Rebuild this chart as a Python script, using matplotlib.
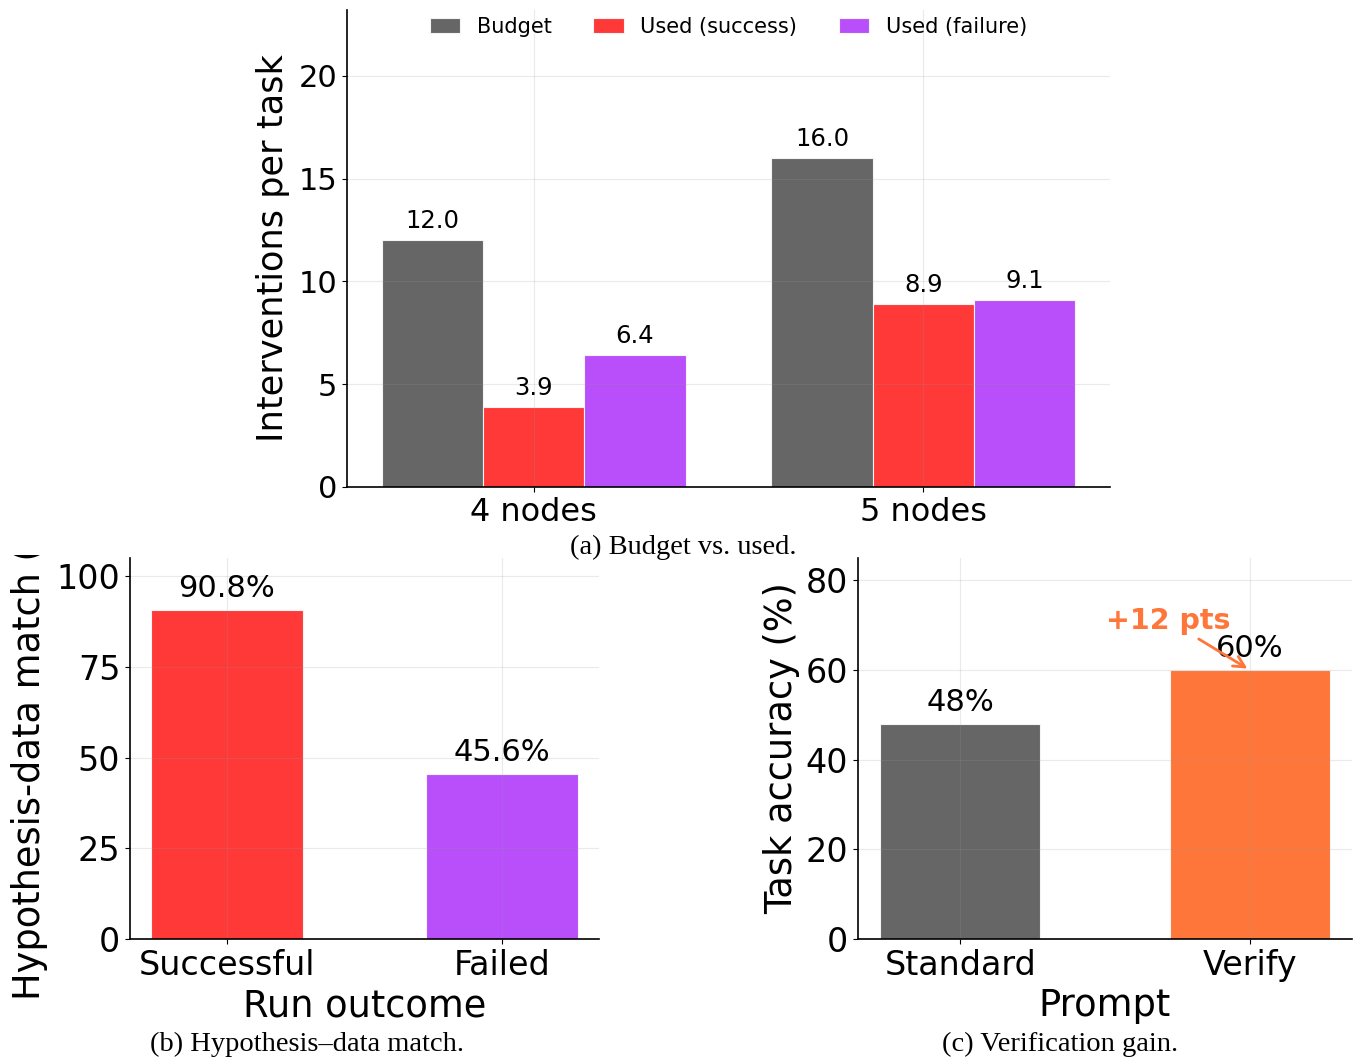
import numpy as np
import matplotlib
matplotlib.use('Agg')
import matplotlib.pyplot as plt
from matplotlib.transforms import Bbox, TransformedBbox

# data
groups = ['4 nodes', '5 nodes']
budget = [12.0, 16.0]
used_success = [3.9, 8.9]
used_failure = [6.4, 9.1]

outcomes = ['Successful', 'Failed']
match_pct = [90.8, 45.6]

prompts = ['Standard', 'Verify']
accuracy = [48, 60]
gain_label = '+12 pts'

GRAY = '#666666'
RED = '#ff3838'
PURPLE = '#b94ffa'
ORANGE = '#ff763a'

plt.rcParams['font.family'] = 'DejaVu Sans'
W, H = 1355, 1061
fig = plt.figure(figsize=(W / 100, H / 100), dpi=100)


def box(l, r, t, b):
    return [l / W, 1 - b / H, (r - l) / W, (b - t) / H]


def style(ax):
    ax.spines['top'].set_visible(False)
    ax.spines['right'].set_visible(False)
    for s in ['left', 'bottom']:
        ax.spines[s].set_linewidth(1.2)
    ax.grid(True, color='#999999', lw=0.8, alpha=0.2)


# (a) budget vs used
ax1 = fig.add_axes(box(347, 1110, 10, 487))
x = np.arange(len(groups))
w = 0.26
b1 = ax1.bar(x - w, budget, w, color=GRAY, edgecolor='#f4f4f4', lw=0.8, label='Budget')
b2 = ax1.bar(x, used_success, w, color=RED, edgecolor='#f4f4f4', lw=0.8, label='Used (success)')
b3 = ax1.bar(x + w, used_failure, w, color=PURPLE, edgecolor='#f4f4f4', lw=0.8, label='Used (failure)')
for bb in (b1, b2, b3):
    ax1.bar_label(bb, fmt='%.1f', padding=5, fontsize=17.5)
ax1.set_ylim(0, 23.2)
ax1.set_yticks([0, 5, 10, 15, 20])
ax1.set_xticks(x)
ax1.set_xticklabels(groups, fontsize=23)
ax1.tick_params(axis='y', labelsize=22)
ax1.set_ylabel('Interventions per task', fontsize=25.3, labelpad=6)
ax1.legend(loc='upper center', bbox_to_anchor=(0.5, 1.025), ncol=3, frameon=False,
           fontsize=15, handlelength=1.45)
style(ax1)

# (b) hypothesis-data match
ax2 = fig.add_axes(box(130, 599, 558, 939))
x2 = np.arange(len(outcomes))
bb = ax2.bar(x2, match_pct, 0.55, color=[RED, PURPLE], edgecolor='#f4f4f4', lw=0.8)
ax2.bar_label(bb, fmt='%.1f%%', padding=5, fontsize=22)
ax2.set_ylim(0, 105)
ax2.set_yticks([0, 25, 50, 75, 100])
ax2.set_xticks(x2)
ax2.set_xticklabels(outcomes, fontsize=24)
ax2.tick_params(axis='y', labelsize=24)
ax2.set_xlabel('Run outcome', fontsize=26.5, labelpad=4)
ax2.set_ylabel('Hypothesis-data match (%)', fontsize=26.5, labelpad=6)
ax2.yaxis.label.set_clip_box(TransformedBbox(Bbox([[0, 0], [1, 1 - 555 / H]]), fig.transFigure))
ax2.yaxis.label.set_clip_on(True)
style(ax2)

# (c) verification gain
ax3 = fig.add_axes(box(858, 1352, 558, 939))
x3 = np.arange(len(prompts))
bc = ax3.bar(x3, accuracy, 0.55, color=[GRAY, ORANGE], edgecolor='#f4f4f4', lw=0.8)
ax3.bar_label(bc, fmt='%d%%', padding=5, fontsize=22)
ax3.set_ylim(0, 85)
ax3.set_yticks([0, 20, 40, 60, 80])
ax3.set_xticks(x3)
ax3.set_xticklabels(prompts, fontsize=24)
ax3.tick_params(axis='y', labelsize=24)
ax3.set_xlabel('Prompt', fontsize=26.5, labelpad=4)
ax3.set_ylabel('Task accuracy (%)', fontsize=26.5)
ax3.annotate(gain_label, xy=(1, accuracy[1]), xytext=(0.72, 71), ha='center', va='center',
             fontsize=20.5, fontweight='bold', color=ORANGE,
             arrowprops=dict(arrowstyle='->', color=ORANGE, lw=2, mutation_scale=20))
style(ax3)

# captions
cap = dict(family='Liberation Serif', fontsize=20.5, ha='center', va='center')
fig.text(683 / W, 1 - 547 / H, '(a) Budget vs. used.', **cap)
fig.text(307 / W, 1 - 1044 / H, '(b) Hypothesis\u2013data match.', **cap)
fig.text(1060 / W, 1 - 1044 / H, '(c) Verification gain.', **cap)

fig.savefig('out.png', dpi=100)
